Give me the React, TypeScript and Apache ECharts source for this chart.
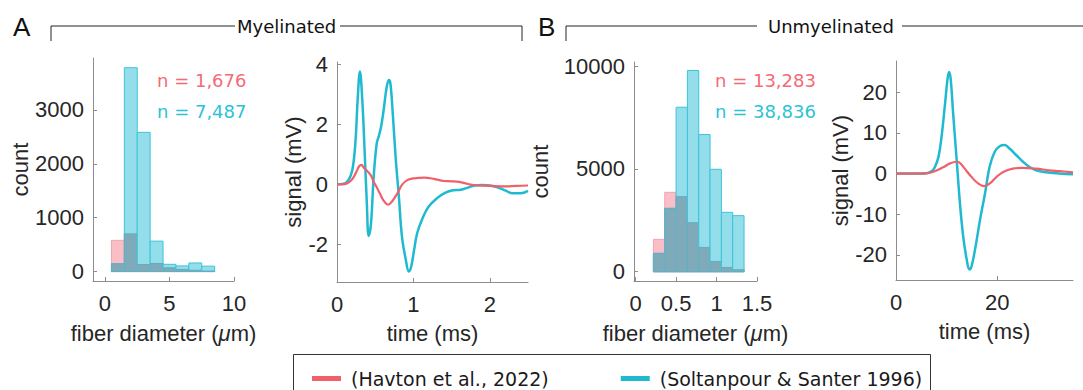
import React, { useEffect, useRef } from "react";
import * as echarts from "echarts";

// ---------- data ----------
const binEdgesMyelinated = [0.5, 1.5, 2.5, 3.5, 4.5, 5.5, 6.5, 7.5, 8.5];
const havtonCountsMyelinated = [580, 700, 130, 150, 70, 40, 25, 10];
const soltanCountsMyelinated = [145, 3785, 2585, 565, 135, 105, 160, 100];

const binEdgesUnmyelinated = [0.22, 0.36, 0.5, 0.64, 0.78, 0.92, 1.06, 1.2, 1.34];
const havtonCountsUnmyelinated = [1574, 3863, 3652, 2386, 1185, 503, 211, 97];
const soltanCountsUnmyelinated = [893, 3084, 8000, 9787, 6671, 4983, 2889, 2727];

const soltanTimeA = [0, 0.1, 0.15, 0.2, 0.24, 0.27, 0.3, 0.33, 0.36, 0.39, 0.415, 0.445, 0.48, 0.52, 0.55, 0.58, 0.61, 0.65, 0.68, 0.7, 0.73, 0.77, 0.81, 0.85, 0.9, 0.94, 0.97, 1.01, 1.05, 1.12, 1.2, 1.31, 1.42, 1.52, 1.62, 1.72, 1.8, 1.9, 2.0, 2.1, 2.2, 2.3, 2.4, 2.5];
const soltanSignalA = [0, 0.03, 0.14, 0.47, 1.36, 2.8, 3.75, 2.85, 1.2, -0.6, -1.72, -1.3, 0.25, 1.36, 1.63, 1.96, 2.46, 3.23, 3.47, 3.34, 2.35, 0.81, -0.41, -1.73, -2.5, -2.9, -2.75, -2.17, -1.62, -1.13, -0.74, -0.46, -0.28, -0.2, -0.18, -0.1, -0.04, -0.02, -0.04, -0.1, -0.2, -0.3, -0.3, -0.22];

const havtonTimeA = [0, 0.07, 0.13, 0.18, 0.22, 0.26, 0.29, 0.32, 0.35, 0.39, 0.44, 0.48, 0.52, 0.56, 0.61, 0.67, 0.72, 0.79, 0.85, 0.92, 1.01, 1.14, 1.27, 1.4, 1.5, 1.6, 1.7, 1.8, 2.0, 2.2, 2.35, 2.5];
const havtonSignalA = [0, 0, 0.03, 0.12, 0.25, 0.45, 0.6, 0.65, 0.55, 0.46, 0.31, 0.09, -0.1, -0.3, -0.54, -0.68, -0.57, -0.3, -0.02, 0.14, 0.2, 0.22, 0.18, 0.11, 0.1, 0.08, 0.02, -0.03, -0.05, -0.07, -0.05, -0.04];

const soltanTimeB = [0, 4, 6.1, 7.1, 7.7, 8.4, 9.0, 9.7, 10.2, 10.5, 10.8, 11.3, 12.0, 12.65, 13.3, 14.0, 14.5, 14.9, 15.6, 16.6, 17.6, 18.5, 19.5, 20.5, 21.5, 22.5, 23.8, 25.1, 26.4, 27.7, 29.7, 32.3, 35];
const soltanSignalB = [0, 0, 0.1, 0.6, 1.6, 4.1, 9.0, 17.2, 23.4, 25.0, 23.4, 14.8, 3.3, -7.4, -15.6, -21.3, -23.6, -23.0, -18.9, -11.5, -4.9, 1.6, 5.3, 6.7, 7.0, 6.1, 4.5, 2.9, 1.6, 0.8, 0.3, 0, -0.2];

const havtonTimeB = [0, 5, 6.7, 8.1, 9.4, 10.7, 12.0, 12.65, 13.6, 14.9, 16.3, 17.4, 18.5, 19.9, 21.2, 23.1, 25.1, 27.7, 30.3, 32.3, 35];
const havtonSignalB = [0, 0, 0.2, 0.8, 1.6, 2.5, 2.9, 2.6, 1.2, -0.8, -2.5, -3.1, -2.5, -0.8, 0.4, 1.2, 1.4, 1.2, 0.8, 0.6, 0.3];

const ticksHistAX = [0, 5, 10];
const ticksHistAY = [0, 1000, 2000, 3000];
const ticksTimeAX = [0, 1, 2];
const ticksTimeAY = [-2, 0, 2, 4];
const ticksHistBX = [0, 0.5, 1, 1.5];
const ticksHistBY = [0, 5000, 10000];
const ticksTimeBX = [0, 20];
const ticksTimeBY = [-20, -10, 0, 10, 20];

const HAVTON = "(Havton et al., 2022)";
const SOLTAN = "(Soltanpour & Santer 1996)";

// ---------- styles ----------
const RED = "#F0606B";
const CYAN = "#1FBAD0";
const AXIS_COLOR = "#8c8c8c";
const LABEL_COLOR = "#262626";
const SANS = "'Liberation Sans', Arial, sans-serif";
const VERD = "'DejaVu Sans', Verdana, sans-serif";
const FS = 22;

const PINK_FILL = "#FABEC7";
const PINK_STROKE = "#F3A3AD";
const CYAN_FILL = "#94DEEB";
const CYAN_STROKE = "#3CC4D9";
const OVERLAP_FILL = "#7EAAB9";

function makeAxis(grid: number, min: number, max: number, ticks: number[], name: string, nameGap: number, isY: boolean) {
  return {
    type: "value",
    gridIndex: grid,
    min,
    max,
    name,
    nameLocation: "middle",
    nameGap,
    nameTextStyle: {
      fontFamily: SANS,
      fontSize: FS,
      color: LABEL_COLOR,
      rich: { it: { fontFamily: SANS, fontSize: FS, fontStyle: "italic", color: LABEL_COLOR } },
    },
    axisLine: { show: true, onZero: false, lineStyle: { color: AXIS_COLOR, width: 1 } },
    axisTick: { show: true, inside: true, length: 4, customValues: ticks, lineStyle: { color: AXIS_COLOR } },
    axisLabel: {
      customValues: ticks,
      fontFamily: SANS,
      fontSize: FS,
      color: LABEL_COLOR,
      margin: isY ? 9 : 11,
      formatter: (v: number) => String(v),
    },
    splitLine: { show: false },
  };
}

// one custom series per histogram pair: pink (Havton), cyan (Soltanpour), and their overlap
function histSeries(name: string, grid: number, edges: number[], havton: number[], soltan: number[]) {
  return {
    type: "custom",
    name,
    xAxisIndex: grid,
    yAxisIndex: grid,
    clip: false,
    encode: { x: [0, 1], y: [2, 3] },
    data: havton.map((h, i) => [edges[i], edges[i + 1], h, soltan[i]]),
    renderItem: (_p: any, api: any) => {
      const x0 = api.value(0);
      const x1 = api.value(1);
      const h = api.value(2);
      const s = api.value(3);
      const rect = (v: number, fill: string, stroke: string) => {
        const p0 = api.coord([x0, 0]);
        const p1 = api.coord([x1, v]);
        return {
          type: "rect",
          shape: { x: p0[0], y: p1[1], width: p1[0] - p0[0], height: p0[1] - p1[1] },
          style: { fill, stroke, lineWidth: 1 },
        };
      };
      return {
        type: "group",
        children: [
          rect(h, PINK_FILL, PINK_STROKE),
          rect(s, CYAN_FILL, CYAN_STROKE),
          rect(Math.min(h, s), OVERLAP_FILL, "#5FAFC2"),
        ],
      };
    },
  };
}

function lineSeries(name: string, grid: number, t: number[], v: number[], color: string, width: number) {
  return {
    type: "line",
    name,
    xAxisIndex: grid,
    yAxisIndex: grid,
    data: t.map((x, i) => [x, v[i]]),
    showSymbol: false,
    smooth: 0.4,
    lineStyle: { color, width },
    itemStyle: { color },
  };
}

export default function App() {
  const ref = useRef<HTMLDivElement>(null);
  useEffect(() => {
    if (!ref.current) return;
    const chart = echarts.init(ref.current, undefined, { renderer: "svg" });
    const option: any = {
      animation: false,
      backgroundColor: "#ffffff",
      grid: [
        { left: 93, top: 58, width: 141, height: 223 },
        { left: 337, top: 62, width: 191, height: 220 },
        { left: 634, top: 62, width: 123, height: 219 },
        { left: 896, top: 61, width: 177, height: 219 },
      ],
      xAxis: [
        makeAxis(0, -0.93, 10, ticksHistAX, "fiber diameter ({it|μ}m)", 41, false),
        makeAxis(1, 0, 2.5, ticksTimeAX, "time (ms)", 40, false),
        makeAxis(2, -0.02, 1.5, ticksHistBX, "fiber diameter ({it|μ}m)", 41, false),
        makeAxis(3, 0, 35, ticksTimeBX, "time (ms)", 40, false),
      ],
      yAxis: [
        makeAxis(0, -175, 3965, ticksHistAY, "count", 61, true),
        makeAxis(1, -3.25, 4.07, ticksTimeAY, "signal (mV)", 19, true),
        makeAxis(2, -450, 10200, ticksHistBY, "count", 83, true),
        makeAxis(3, -26.2, 27.7, ticksTimeBY, "signal (mV)", 42, true),
      ],
      legend: {
        left: 307,
        top: 364,
        icon: "rect",
        itemWidth: 29,
        itemHeight: 5,
        itemGap: 72,
        textStyle: { fontFamily: VERD, fontSize: 19, color: "#1a1a1a", padding: [0, 0, 0, 5] },
        data: [HAVTON, SOLTAN],
        selectedMode: false,
      },
      series: [
        histSeries("Myelinated fiber diameter histogram", 0, binEdgesMyelinated, havtonCountsMyelinated, soltanCountsMyelinated),
        histSeries("Unmyelinated fiber diameter histogram", 2, binEdgesUnmyelinated, havtonCountsUnmyelinated, soltanCountsUnmyelinated),
        lineSeries(SOLTAN, 1, soltanTimeA, soltanSignalA, CYAN, 2.5),
        lineSeries(HAVTON, 1, havtonTimeA, havtonSignalA, RED, 2.2),
        lineSeries(SOLTAN, 3, soltanTimeB, soltanSignalB, CYAN, 2.5),
        lineSeries(HAVTON, 3, havtonTimeB, havtonSignalB, RED, 2.2),
      ],
      graphic: [
        { type: "text", x: 13, y: 27, style: { text: "A", fontFamily: SANS, fontSize: 26, fill: "#111", textVerticalAlign: "middle" } },
        { type: "text", x: 538, y: 27, style: { text: "B", fontFamily: SANS, fontSize: 26, fill: "#111", textVerticalAlign: "middle" } },
        { type: "polyline", shape: { points: [[51, 41], [51, 26], [235, 26]] }, style: { stroke: "#222", lineWidth: 1, fill: "none" } },
        { type: "polyline", shape: { points: [[340, 26], [522, 26], [522, 41]] }, style: { stroke: "#222", lineWidth: 1, fill: "none" } },
        { type: "text", x: 237, y: 26, style: { text: "Myelinated", fontFamily: VERD, fontSize: 18, fill: "#111", textVerticalAlign: "middle" } },
        { type: "polyline", shape: { points: [[566, 41], [566, 26], [757, 26]] }, style: { stroke: "#222", lineWidth: 1, fill: "none" } },
        { type: "polyline", shape: { points: [[902, 26], [1083, 26]] }, style: { stroke: "#222", lineWidth: 1, fill: "none" } },
        { type: "text", x: 768, y: 26, style: { text: "Unmyelinated", fontFamily: VERD, fontSize: 18, fill: "#111", textVerticalAlign: "middle" } },
        { type: "text", x: 157, y: 80, style: { text: "n = 1,676", fontFamily: VERD, fontSize: 18, fill: "#F26B76", textVerticalAlign: "middle" } },
        { type: "text", x: 157, y: 111, style: { text: "n = 7,487", fontFamily: VERD, fontSize: 18, fill: "#2DC2D6", textVerticalAlign: "middle" } },
        { type: "text", x: 715, y: 80, style: { text: "n = 13,283", fontFamily: VERD, fontSize: 18, fill: "#F26B76", textVerticalAlign: "middle" } },
        { type: "text", x: 715, y: 111, style: { text: "n = 38,836", fontFamily: VERD, fontSize: 18, fill: "#2DC2D6", textVerticalAlign: "middle" } },
        { type: "rect", shape: { x: 293.5, y: 354.5, width: 637, height: 50 }, style: { fill: "none", stroke: "#333", lineWidth: 1 } },
      ],
    };
    chart.setOption(option);
    return () => chart.dispose();
  }, []);
  return <div ref={ref} style={{ position: "absolute", left: 0, top: 0, width: 1083, height: 390 }} />;
}
